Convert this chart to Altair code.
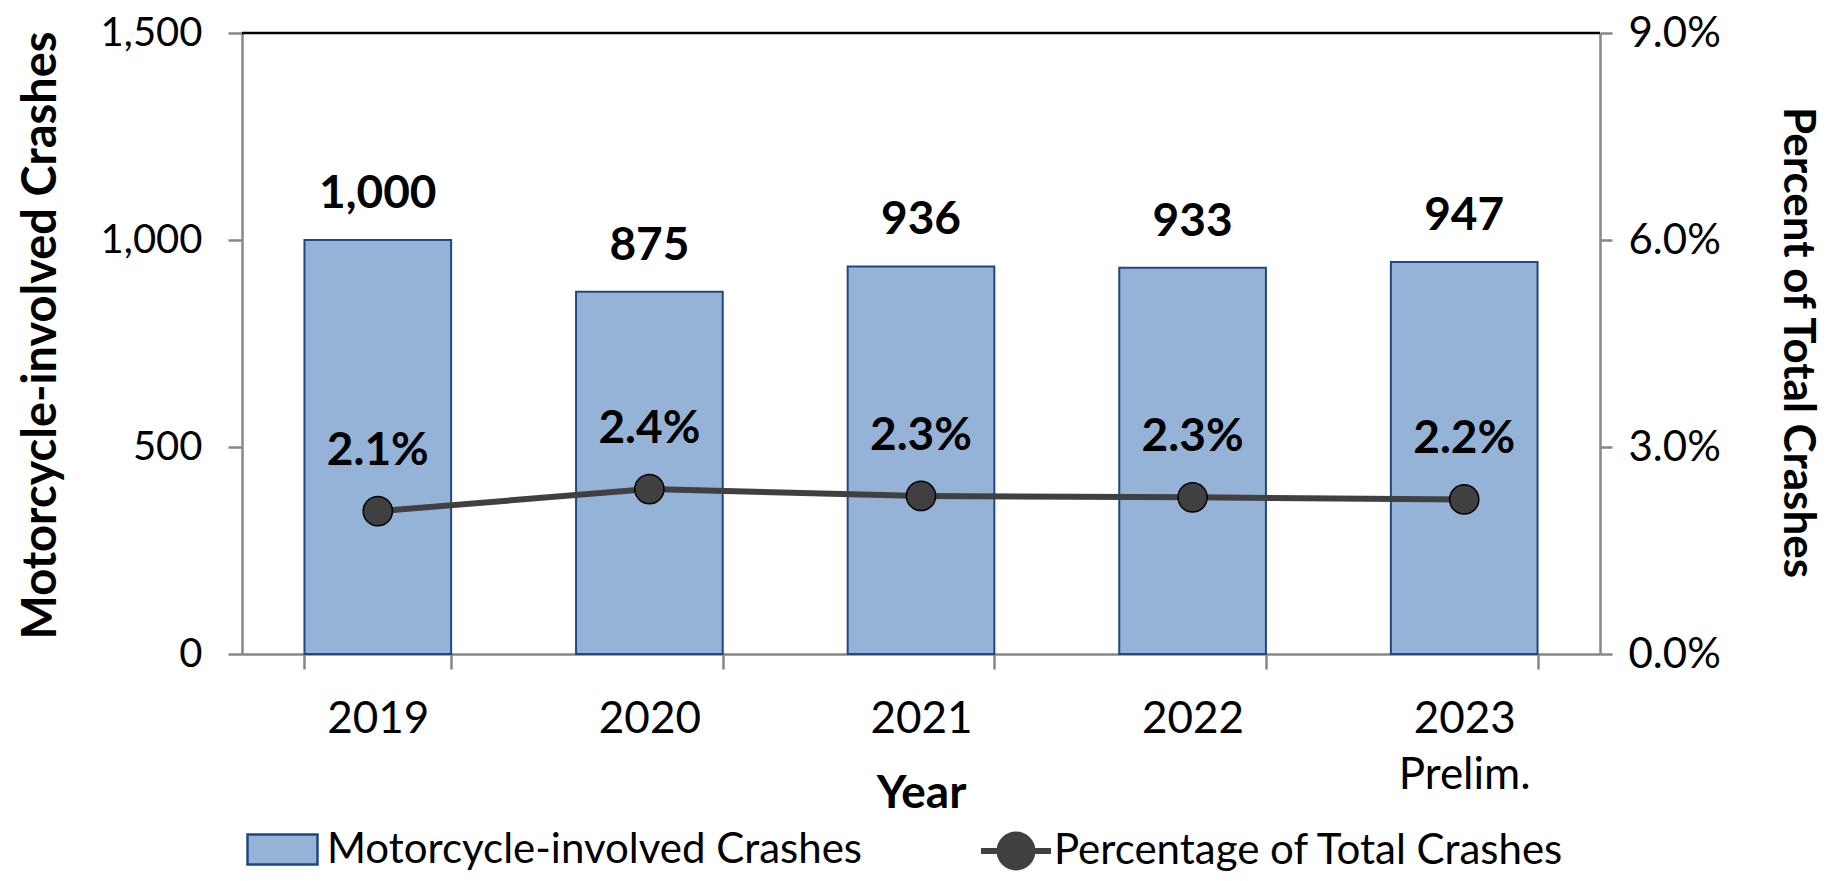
import altair as alt
import pandas as pd

years = ["2019", "2020", "2021", "2022", "2023|Prelim."]
crashes = [1000, 875, 936, 933, 947]
pct_total = [0.0207, 0.0239, 0.0229, 0.0227, 0.0224]
bar_series = "Motorcycle-involved Crashes"
line_series = "Percentage of Total Crashes"

df = pd.DataFrame({
    "Year": years,
    "Crashes": crashes,
    "Pct": pct_total,
    "bar_s": [bar_series] * len(years),
    "line_s": [line_series] * len(years),
})
top_df = pd.DataFrame({"top": [1500]})

FONT = "Lato"
AXIS_GRAY = "#878787"
TICK_FS = 44
BOLD_FS = 46
LEG_FS = 42

x_enc = alt.X(
    "Year:N", sort=years,
    scale=alt.Scale(paddingInner=0.46, paddingOuter=0.23),
    axis=alt.Axis(
        title="Year", labelExpr="split(datum.label, '|')", labelAngle=0,
        labelFont=FONT, labelFontSize=TICK_FS, labelColor="black", labelPadding=28,
        labelLineHeight=56,
        titleFont=FONT, titleFontSize=BOLD_FS, titleFontWeight="bold", titleColor="black",
        titleY=139, titleBaseline="middle",
        domainColor=AXIS_GRAY, domainWidth=2.5, tickColor=AXIS_GRAY, tickWidth=2.5,
        tickSize=15, tickBand="extent", grid=False,
    ),
)

y_left = alt.Y(
    "Crashes:Q",
    scale=alt.Scale(domain=[0, 1500], nice=False),
    axis=alt.Axis(
        title="Motorcycle-involved Crashes", values=[0, 500, 1000, 1500], format=",.0f",
        labelFont=FONT, labelFontSize=40, labelColor="black", labelPadding=26,
        titleFont=FONT, titleFontSize=47, titleFontWeight="bold", titleColor="black",
        titleX=-201, titleY=302, titleAngle=-90, titleAlign="center", titleBaseline="middle",
        domainColor=AXIS_GRAY, domainWidth=2.5, tickColor=AXIS_GRAY, tickWidth=2.5,
        tickSize=14, grid=False,
    ),
)

bars = alt.Chart(df).mark_bar(stroke="#1F497D", strokeWidth=2).encode(
    x=x_enc,
    y=y_left,
    fill=alt.Fill(
        "bar_s:N",
        scale=alt.Scale(domain=[bar_series], range=["#95B3D7"]),
        legend=alt.Legend(
            title=None, orient="none", legendX=4, legendY=780,
            symbolType="M-1,-0.43H1V0.43H-1Z", symbolSize=4900,
            symbolStrokeColor="#1F497D", symbolStrokeWidth=2.5,
            labelFont=FONT, labelFontSize=LEG_FS, labelColor="black", labelOffset=8,
            labelLimit=900, padding=0,
        ),
    ),
)

bar_labels = alt.Chart(df).mark_text(
    font=FONT, fontSize=BOLD_FS, fontWeight="bold", color="black", dy=-46, baseline="middle"
).encode(
    x=alt.X("Year:N", sort=years),
    y=alt.Y("Crashes:Q", scale=alt.Scale(domain=[0, 1500], nice=False)),
    text=alt.Text("Crashes:Q", format=",.0f"),
)

top_rule = alt.Chart(top_df).mark_rule(color="black", strokeWidth=2.5).encode(
    y=alt.Y("top:Q", scale=alt.Scale(domain=[0, 1500], nice=False)),
)

y_right = alt.Y(
    "Pct:Q",
    scale=alt.Scale(domain=[0, 0.09], nice=False),
    axis=alt.Axis(
        orient="right", title="Percent of Total Crashes", values=[0, 0.03, 0.06, 0.09],
        format=".1%",
        labelFont=FONT, labelFontSize=42, labelColor="black", labelPadding=16,
        titleFont=FONT, titleFontSize=44, titleFontWeight="bold", titleColor="black",
        titleX=196, titleY=309, titleAngle=90, titleAlign="center", titleBaseline="middle",
        domainColor=AXIS_GRAY, domainWidth=2.5, tickColor=AXIS_GRAY, tickWidth=2.5,
        tickSize=12, grid=False,
    ),
)

line = alt.Chart(df).mark_line(strokeWidth=6).encode(
    x=alt.X("Year:N", sort=years),
    y=y_right,
    stroke=alt.Stroke(
        "line_s:N",
        scale=alt.Scale(domain=[line_series], range=["#404040"]),
        legend=alt.Legend(
            title=None, orient="none", legendX=736, legendY=780,
            symbolType="M-1,0H1M-0.47,0A0.47,0.47 0 1 1 0.47,0A0.47,0.47 0 1 1 -0.47,0M-0.3,0A0.3,0.3 0 1 1 0.3,0A0.3,0.3 0 1 1 -0.3,0M-0.15,0A0.15,0.15 0 1 1 0.15,0A0.15,0.15 0 1 1 -0.15,0",
            symbolSize=4900, symbolStrokeWidth=6, symbolFillColor="#404040",
            labelFont=FONT, labelFontSize=LEG_FS, labelColor="black", labelOffset=0,
            labelLimit=900, padding=0,
        ),
    ),
)

points = alt.Chart(df).mark_point(
    filled=True, size=855, shape="circle", fill="#404040", stroke="black",
    strokeWidth=1.5, opacity=1,
).encode(
    x=alt.X("Year:N", sort=years),
    y=alt.Y("Pct:Q", scale=alt.Scale(domain=[0, 0.09], nice=False)),
)

pct_labels = alt.Chart(df).mark_text(
    font=FONT, fontSize=BOLD_FS, fontWeight="bold", color="black", dy=-60, baseline="middle"
).encode(
    x=alt.X("Year:N", sort=years),
    y=alt.Y("Pct:Q", scale=alt.Scale(domain=[0, 0.09], nice=False)),
    text=alt.Text("Pct:Q", format=".1%"),
)

left_layer = alt.layer(bars, bar_labels, top_rule)
right_layer = alt.layer(line, points, pct_labels)

chart = alt.layer(left_layer, right_layer).resolve_scale(
    y="independent", fill="independent", stroke="independent"
).properties(
    width=1358, height=621,
    autosize=alt.AutoSizeParams(type="none"),
    padding={"left": 234, "top": 25, "right": 226, "bottom": 219},
).configure_view(strokeWidth=0)

chart.save("out.html", embed_options={"renderer": "svg", "actions": False})
